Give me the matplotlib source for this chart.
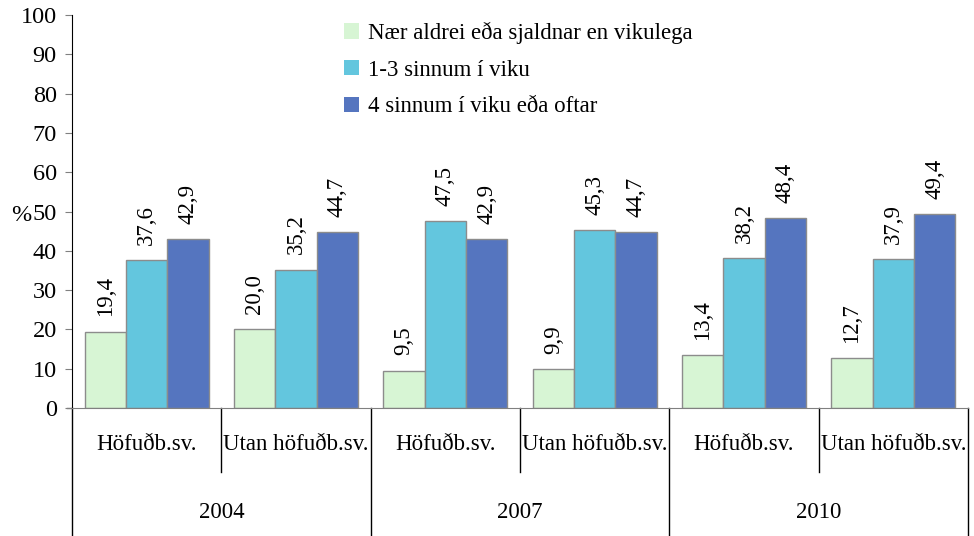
import numpy as np
import matplotlib.pyplot as plt
from matplotlib.patches import Patch

plt.rcParams['font.family'] = ['Liberation Serif', 'DejaVu Serif']

# gögn
years = ['2004', '2007', '2010']
regions = ['Höfuðb.sv.', 'Utan höfuðb.sv.']
series_names = ['Nær aldrei eða sjaldnar en vikulega',
                '1-3 sinnum í viku',
                '4 sinnum í viku eða oftar']
naer_aldrei = [19.4, 20.0, 9.5, 9.9, 13.4, 12.7]
einu_til_thrisvar = [37.6, 35.2, 47.5, 45.3, 38.2, 37.9]
fjorum_oftar = [42.9, 44.7, 42.9, 44.7, 48.4, 49.4]

colors = ['#d7f5d4', '#63c6de', '#5575bf']
series = [naer_aldrei, einu_til_thrisvar, fjorum_oftar]
fs = 16.5

fig = plt.figure(figsize=(9.74, 5.36), dpi=100)
ax = fig.add_axes([72 / 974, 128 / 536, 896 / 974, 393 / 536])

x = np.arange(len(naer_aldrei))
w = 0.277
for i, vals in enumerate(series):
    pos = x + (i - 1) * w
    bars = ax.bar(pos, vals, width=w, color=colors[i], edgecolor='#8c8c8c',
                  linewidth=1, label=series_names[i], zorder=2)
    for b, v in zip(bars, vals):
        ax.annotate(f'{v:.1f}'.replace('.', ','),
                    (b.get_x() + b.get_width() / 2, v),
                    xytext=(0, 11), textcoords='offset points',
                    rotation=90, ha='center', va='bottom', fontsize=fs)

ax.set_xlim(-0.5, len(x) - 0.5)
ax.set_ylim(0, 100)
ax.set_yticks(range(0, 101, 10))
ax.tick_params(axis='y', labelsize=fs + 1, length=5, color='#808080', pad=6)
ax.set_xticks([])
ax.set_ylabel('%', rotation=0, fontsize=fs + 1, labelpad=0, va='center',
              ha='center')
ax.yaxis.set_label_coords(-51 / 896, 0.5 - 4 / 393)

for s in ['top', 'right']:
    ax.spines[s].set_visible(False)
ax.spines['bottom'].set_color('#808080')
ax.spines['left'].set_color('black')

# neðri flokkar
trans = ax.get_xaxis_transform()
h = 393
sub_y = -37 / h
year_y = -104 / h
for k in range(len(x)):
    ax.text(x[k], sub_y, regions[k % 2], transform=trans, ha='center',
            va='center', fontsize=fs)
for j, yr in enumerate(years):
    ax.text(2 * j + 0.5, year_y, yr, transform=trans, ha='center',
            va='center', fontsize=fs)

# skillilínur
for k in range(len(x) + 1):
    xv = k - 0.5
    low = -128 / h if k % 2 == 0 else -64 / h
    ax.plot([xv, xv], [0, low], transform=trans, color='black', lw=1,
            clip_on=False)
ax.plot([-0.5 - 0.034, -0.5], [0, 0], transform=trans, color='#808080',
        lw=1, clip_on=False)

handles = [Patch(facecolor=c, edgecolor='none') for c in colors]
leg = ax.legend(handles, series_names, loc='upper left',
                bbox_to_anchor=(0.281, 1.035), frameon=False, fontsize=fs,
                handlelength=0.65, handleheight=0.65, handletextpad=0.4,
                labelspacing=0.68)

fig.savefig('out.png', dpi=100)
